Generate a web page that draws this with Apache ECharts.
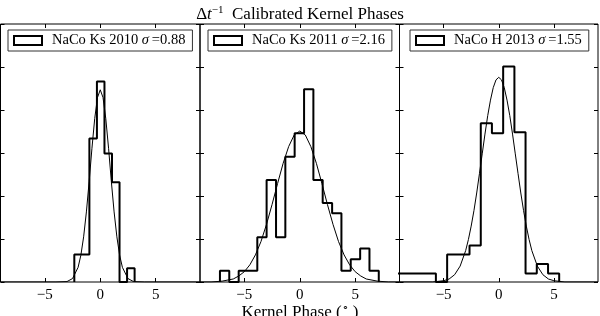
<!DOCTYPE html>
<html><head><meta charset="utf-8">
<script src="https://cdn.jsdelivr.net/npm/echarts@6/dist/echarts.min.js"></script>
<style>html,body{margin:0;padding:0;background:#fff}#c{width:600px;height:316px}</style>
</head><body><div id="c"></div>
<script>
// ---- data ----
const xTicks = [-5, 0, 5];
const yTicks = [0, 0.1, 0.2, 0.3, 0.4, 0.5, 0.6];
const labels = ['NaCo Ks 2010', 'NaCo Ks 2011', 'NaCo H 2013'];
const sigmas = ['0.88', '2.16', '1.55'];

const edges2010 = [-2.34, -1.66, -0.98, -0.30, 0.38, 1.06, 1.74, 2.42, 3.10];
const hist2010  = [0.064, 0.064, 0.334, 0.466, 0.299, 0.232, 0, 0.032];

const edges2011 = [-7.20, -6.36, -5.51, -4.67, -3.83, -2.99, -2.14, -1.30, -0.46, 0.39, 1.23, 2.07, 2.92, 3.76, 4.60, 5.45, 6.29, 7.13];
const hist2011  = [0.026, 0, 0.026, 0.026, 0.104, 0.237, 0.104, 0.291, 0.346, 0.448, 0.237, 0.184, 0.160, 0.026, 0.053, 0.078, 0.026];

const edges2013 = [-9.77, -8.75, -7.73, -6.72, -5.70, -4.68, -3.67, -2.65, -1.63, -0.62, 0.40, 1.42, 2.43, 3.45, 4.47, 5.48];
const hist2013  = [0.020, 0.020, 0.020, 0.020, 0, 0.064, 0.064, 0.085, 0.369, 0.346, 0.501, 0.348, 0.020, 0.042, 0.020];

const fitX2010 = [-9, -4, -3, -2.5, -2, -1.75, -1.5, -1.25, -1, -0.75, -0.5, -0.25, 0, 0.25, 0.5, 0.75, 1, 1.25, 1.5, 1.75, 2, 2.5, 3, 4, 9];
const fitY2010 = [0, 0, 0.001, 0.008, 0.034, 0.062, 0.105, 0.163, 0.234, 0.311, 0.380, 0.429, 0.447, 0.429, 0.380, 0.311, 0.234, 0.163, 0.105, 0.062, 0.034, 0.008, 0.001, 0, 0];

const fitX2011 = [-9, -8, -7, -6, -5.5, -5, -4.5, -4, -3.5, -3, -2.5, -2, -1.5, -1, -0.5, 0, 0.5, 1, 1.5, 2, 2.5, 3, 3.5, 4, 4.5, 5, 5.5, 6, 7, 8, 9];
const fitY2011 = [0, 0, 0.002, 0.007, 0.014, 0.024, 0.040, 0.063, 0.094, 0.134, 0.180, 0.229, 0.276, 0.315, 0.342, 0.351, 0.342, 0.315, 0.276, 0.229, 0.180, 0.134, 0.094, 0.063, 0.040, 0.024, 0.014, 0.007, 0.002, 0, 0];

const fitX2013 = [-9, -6, -5, -4.5, -4, -3.5, -3, -2.75, -2.5, -2.25, -2, -1.75, -1.5, -1.25, -1, -0.75, -0.5, -0.25, 0, 0.25, 0.5, 0.75, 1, 1.25, 1.5, 1.75, 2, 2.25, 2.5, 2.75, 3, 3.5, 4, 4.5, 5, 6, 9];
const fitY2013 = [0, 0, 0.003, 0.007, 0.017, 0.037, 0.073, 0.099, 0.130, 0.166, 0.207, 0.252, 0.298, 0.344, 0.387, 0.423, 0.452, 0.470, 0.476, 0.470, 0.452, 0.423, 0.387, 0.344, 0.298, 0.252, 0.207, 0.166, 0.130, 0.099, 0.073, 0.037, 0.017, 0.007, 0.003, 0, 0];

// ---- chart ----
const FONT = 'Liberation Serif';
const panels = [
  {edges: edges2010, hist: hist2010, fx: fitX2010, fy: fitY2010},
  {edges: edges2011, hist: hist2011, fx: fitX2011, fy: fitY2011},
  {edges: edges2013, hist: hist2013, fx: fitX2013, fy: fitY2013}
];
const gridPos = [{left: 0.5, width: 199.5}, {left: 200, width: 199.5}, {left: 399.5, width: 198.5}];
const legendLeft = [8, 208, 410];

function outline(edges, h) {
  const pts = [[edges[0], 0]];
  for (let i = 0; i < h.length; i++) {
    pts.push([edges[i], h[i]], [edges[i + 1], h[i]]);
  }
  pts.push([edges[h.length], 0]);
  return pts;
}
const fmtTick = v => (v < 0 ? '\u2212' + Math.abs(v) : String(v));
const seriesName = i => labels[i] + ' \u03c3=' + sigmas[i];

const grid = [], xAxis = [], yAxis = [], series = [], legend = [];
panels.forEach((p, i) => {
  grid.push({left: gridPos[i].left, width: gridPos[i].width, top: 24, height: 258,
    show: true, borderColor: '#000', borderWidth: 1, backgroundColor: 'transparent'});
  ['bottom', 'top'].forEach((pos, k) => {
    xAxis.push({type: 'value', gridIndex: i, position: pos, min: -9, max: 9,
      axisLine: {show: false, onZero: false}, splitLine: {show: false},
      axisTick: {show: true, inside: true, length: 4, customValues: xTicks, lineStyle: {color: '#000'}},
      axisLabel: {show: k === 0, customValues: xTicks, formatter: fmtTick, margin: 6,
        fontFamily: FONT, fontSize: 15, color: '#000'}});
  });
  ['left', 'right'].forEach(pos => {
    yAxis.push({type: 'value', gridIndex: i, position: pos, min: 0, max: 0.6, interval: 0.1,
      axisLine: {show: false, onZero: false}, splitLine: {show: false},
      axisTick: {show: true, inside: true, length: 4, customValues: yTicks, lineStyle: {color: '#000'}},
      axisLabel: {show: false}});
  });
  series.push({type: 'line', name: seriesName(i), xAxisIndex: 2 * i, yAxisIndex: 2 * i,
    data: outline(p.edges, p.hist), symbol: 'none', clip: true,
    lineStyle: {color: '#000', width: 2}, itemStyle: {color: '#000'}, z: 3});
  series.push({type: 'line', name: 'fit' + i, xAxisIndex: 2 * i, yAxisIndex: 2 * i,
    data: p.fx.map((x, j) => [x, p.fy[j]]), symbol: 'none', clip: true,
    lineStyle: {color: '#000', width: 1}, z: 2});
  legend.push({data: [{name: seriesName(i), icon: 'rect'}], left: legendLeft[i], top: 30,
    selectedMode: false, itemWidth: 28, itemHeight: 9,
    itemStyle: {color: '#fff', borderColor: '#000', borderWidth: 2},
    backgroundColor: '#fff', borderColor: '#333', borderWidth: 1, borderRadius: 0,
    padding: [3, 7, 3, 5],
    formatter: () => labels[i] + ' {i|\u03c3}\u2009=' + sigmas[i],
    textStyle: {fontFamily: FONT, fontSize: 14.5, color: '#000', padding: [0, 0, 0, 5],
      rich: {i: {fontFamily: FONT, fontSize: 14.5, fontStyle: 'italic', color: '#000'}}}});
});

const chart = echarts.init(document.getElementById('c'), null, {renderer: 'canvas'});
chart.setOption({
  animation: false,
  backgroundColor: '#fff',
  title: [
    {text: '\u0394{i|t}{sup|\u22121}  Calibrated Kernel Phases', left: 'center', top: 0,
      textStyle: {fontFamily: FONT, fontSize: 17, fontWeight: 'normal', color: '#000', lineHeight: 20,
        rich: {i: {fontFamily: FONT, fontSize: 17, fontStyle: 'italic', color: '#000', lineHeight: 20},
               sup: {fontFamily: FONT, fontSize: 11, color: '#000', verticalAlign: 'top', lineHeight: 14}}}},
    {text: 'Kernel Phase ({sup|\u2218} )', left: 'center', top: 298,
      textStyle: {fontFamily: FONT, fontSize: 17, fontWeight: 'normal', color: '#000', lineHeight: 19,
        rich: {sup: {fontFamily: FONT, fontSize: 11, color: '#000', verticalAlign: 'top', lineHeight: 12}}}}
  ],
  grid, xAxis, yAxis, series, legend
});
</script></body></html>
